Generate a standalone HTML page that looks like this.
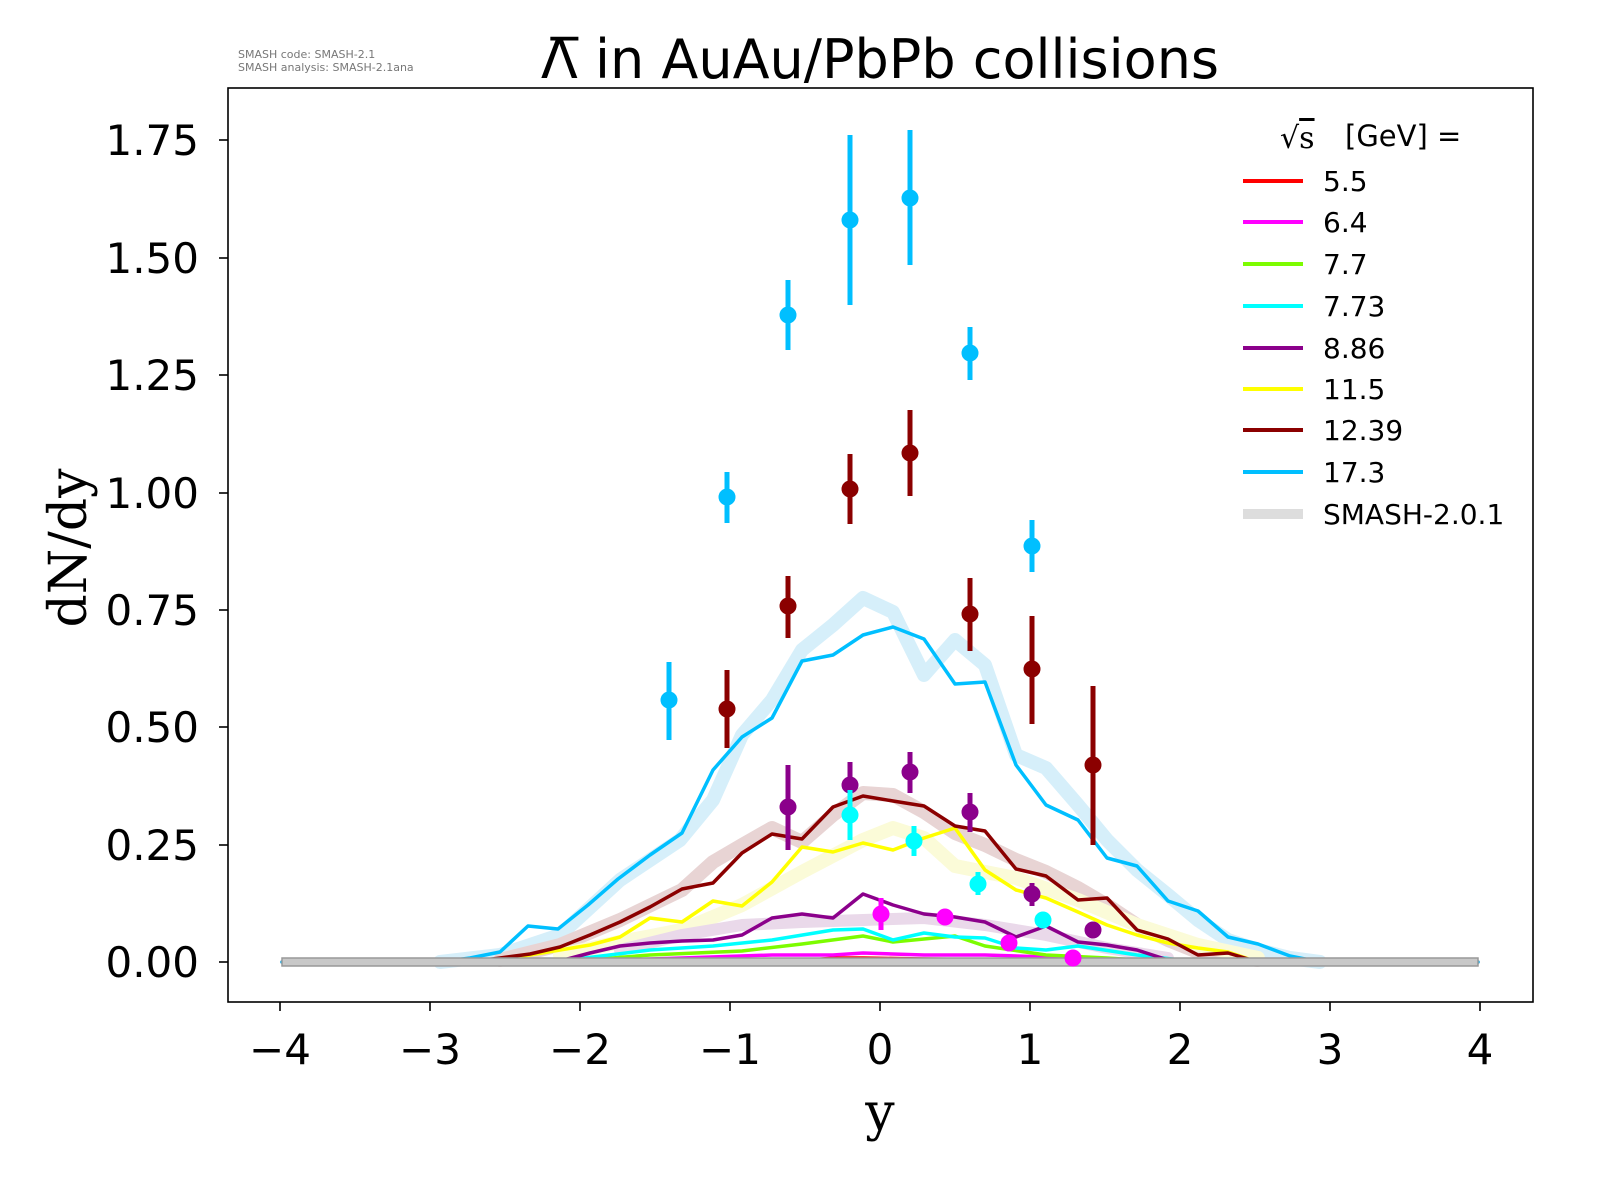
<!DOCTYPE html>
<html><head><meta charset="utf-8"><style>html,body{margin:0;padding:0;background:#fff;}svg{display:block}</style></head>
<body>
<svg width="1600" height="1200" xmlns="http://www.w3.org/2000/svg" font-family="DejaVu Sans, Liberation Sans, sans-serif">
<rect width="1600" height="1200" fill="#fff"/>
<text x="238" y="58" font-size="11" fill="#777">SMASH code:      SMASH-2.1</text>
<text x="238" y="71" font-size="11" fill="#777">SMASH analysis: SMASH-2.1ana</text>
<text x="880" y="78" font-size="54" text-anchor="middle">Λ̅ in AuAu/PbPb collisions</text>

<g fill="none" stroke-linejoin="round" stroke-linecap="round">
<polyline stroke="#d6effa" stroke-width="14" points="440,962 500,955 560,935 620,880 680,840 713,800 742,735 772,700 802,650 833,625 863,598 893,612 924,675 955,640 985,665 1016,755 1046,768 1078,805 1107,840 1137,870 1168,895 1198,920 1228,940 1258,950 1290,958 1320,962"/>
<polyline stroke="#e8d4d4" stroke-width="14" points="500,960 560,945 620,920 682,890 713,862 742,845 772,828 802,842 833,815 863,793 893,795 924,812 955,833 985,845 1016,860 1046,872 1078,888 1107,905 1137,925 1168,940 1198,952 1258,960"/>
<polyline stroke="#fbfbd8" stroke-width="14" points="560,955 620,942 682,930 742,905 802,872 863,840 893,828 924,838 955,866 985,872 1016,878 1078,900 1137,925 1198,945 1258,958"/>
<polyline stroke="#ead9ea" stroke-width="12" points="620,950 682,935 742,925 802,922 863,920 924,918 985,925 1046,935 1107,948 1168,958"/>
<polyline stroke="#ff0000" stroke-width="3.5" points="282,962 682,961 742,959 802,961 833,958 863,958 924,959 1016,960 1078,962 1478,962"/>
<polyline stroke="#ff00ff" stroke-width="3.5" points="560,962 682,958 772,955 833,955 863,953 924,955 985,955 1046,957 1107,960 1168,962"/>
<polyline stroke="#7cfc00" stroke-width="3.5" points="560,962 650,955 742,951 802,944 863,936 893,942 955,936 985,946 1046,955 1107,958 1168,962"/>
<polyline stroke="#00ffff" stroke-width="3.5" points="560,961 650,950 713,946 772,940 833,930 863,929 893,940 924,933 955,937 985,938 1016,948 1046,950 1078,946 1137,955 1198,962"/>
<polyline stroke="#8b008b" stroke-width="3.5" points="560,961 590,953 620,946 650,943 682,941 713,940 742,935 772,918 802,914 833,918 863,894 893,905 924,914 955,917 985,922 1016,937 1046,926 1078,942 1107,945 1137,950 1168,960 1198,962"/>
<polyline stroke="#ffff00" stroke-width="3.5" points="500,960 560,950 590,945 620,937 650,918 682,922 713,901 742,906 772,882 802,847 833,852 863,843 893,850 924,838 955,828 985,870 1016,890 1046,898 1078,912 1107,925 1137,935 1168,943 1198,948 1228,952 1258,962"/>
<polyline stroke="#8b0000" stroke-width="3.5" points="470,962 500,958 530,954 560,947 590,935 620,922 650,907 682,889 713,883 742,853 772,834 802,839 833,807 863,796 893,801 924,806 955,826 985,831 1016,869 1046,876 1078,900 1107,898 1137,930 1168,939 1198,955 1228,953 1258,962 1320,962"/>
<polyline stroke="#00bfff" stroke-width="3.5" points="282,962 440,962 470,958 500,952 528,926 558,929 588,905 618,879 650,855 682,833 713,770 742,737 772,718 802,661 833,655 863,635 893,627 924,639 955,684 985,682 1016,765 1046,805 1078,820 1107,858 1137,866 1168,901 1198,911 1228,937 1258,944 1290,956 1320,962 1478,962"/>
</g>
<rect x="282" y="958" width="1196" height="8" fill="#c8c8c8" stroke="#999" stroke-width="1.5"/>

<g stroke-width="5">
<g stroke="#00bfff" fill="#00bfff">
<line x1="669" y1="662" x2="669" y2="740"/><circle cx="669" cy="700" r="6"/>
<line x1="727" y1="472" x2="727" y2="523"/><circle cx="727" cy="497" r="6"/>
<line x1="788" y1="280" x2="788" y2="350"/><circle cx="788" cy="315" r="6"/>
<line x1="850" y1="135" x2="850" y2="305"/><circle cx="850" cy="220" r="6"/>
<line x1="910" y1="130" x2="910" y2="265"/><circle cx="910" cy="198" r="6"/>
<line x1="970" y1="327" x2="970" y2="380"/><circle cx="970" cy="353" r="6"/>
<line x1="1032" y1="520" x2="1032" y2="572"/><circle cx="1032" cy="546" r="6"/>
</g>
<g stroke="#8b0000" fill="#8b0000">
<line x1="727" y1="670" x2="727" y2="748"/><circle cx="727" cy="709" r="6"/>
<line x1="788" y1="576" x2="788" y2="638"/><circle cx="788" cy="606" r="6"/>
<line x1="850" y1="454" x2="850" y2="524"/><circle cx="850" cy="489" r="6"/>
<line x1="910" y1="410" x2="910" y2="496"/><circle cx="910" cy="453" r="6"/>
<line x1="970" y1="578" x2="970" y2="651"/><circle cx="970" cy="614" r="6"/>
<line x1="1032" y1="616" x2="1032" y2="724"/><circle cx="1032" cy="669" r="6"/>
<line x1="1093" y1="686" x2="1093" y2="845"/><circle cx="1093" cy="765" r="6"/>
</g>
<g stroke="#8b008b" fill="#8b008b">
<line x1="788" y1="765" x2="788" y2="850"/><circle cx="788" cy="807" r="6"/>
<line x1="850" y1="762" x2="850" y2="808"/><circle cx="850" cy="785" r="6"/>
<line x1="910" y1="752" x2="910" y2="793"/><circle cx="910" cy="772" r="6"/>
<line x1="970" y1="793" x2="970" y2="832"/><circle cx="970" cy="812" r="6"/>
<line x1="1032" y1="883" x2="1032" y2="906"/><circle cx="1032" cy="894" r="6"/>
<line x1="1093" y1="923" x2="1093" y2="937"/><circle cx="1093" cy="930" r="6"/>
</g>
<g stroke="#00ffff" fill="#00ffff">
<line x1="850" y1="790" x2="850" y2="840"/><circle cx="850" cy="815" r="6"/>
<line x1="914" y1="826" x2="914" y2="856"/><circle cx="914" cy="841" r="6"/>
<line x1="978" y1="872" x2="978" y2="895"/><circle cx="978" cy="884" r="6"/>
<line x1="1043" y1="913" x2="1043" y2="927"/><circle cx="1043" cy="920" r="6"/>
</g>
<g stroke="#ff00ff" fill="#ff00ff">
<line x1="881" y1="898" x2="881" y2="930"/><circle cx="881" cy="914" r="6"/>
<line x1="945" y1="911" x2="945" y2="923"/><circle cx="945" cy="917" r="6"/>
<circle cx="1009" cy="943" r="6"/>
<circle cx="1073" cy="958" r="6"/>
</g>
</g>

<rect x="228" y="88" width="1305" height="914" fill="none" stroke="#000" stroke-width="1.6"/>
<g stroke="#000" stroke-width="1.6">
<line x1="280" y1="1002" x2="280" y2="1011"/><line x1="430" y1="1002" x2="430" y2="1011"/><line x1="580" y1="1002" x2="580" y2="1011"/><line x1="730" y1="1002" x2="730" y2="1011"/><line x1="880" y1="1002" x2="880" y2="1011"/><line x1="1030" y1="1002" x2="1030" y2="1011"/><line x1="1180" y1="1002" x2="1180" y2="1011"/><line x1="1330" y1="1002" x2="1330" y2="1011"/><line x1="1480" y1="1002" x2="1480" y2="1011"/>
<line x1="219" y1="962" x2="228" y2="962"/><line x1="219" y1="845" x2="228" y2="845"/><line x1="219" y1="727" x2="228" y2="727"/><line x1="219" y1="610" x2="228" y2="610"/><line x1="219" y1="493" x2="228" y2="493"/><line x1="219" y1="375" x2="228" y2="375"/><line x1="219" y1="258" x2="228" y2="258"/><line x1="219" y1="140" x2="228" y2="140"/>
</g>
<g font-size="42" text-anchor="middle">
<text x="280" y="1064">−4</text><text x="430" y="1064">−3</text><text x="580" y="1064">−2</text><text x="730" y="1064">−1</text><text x="880" y="1064">0</text><text x="1030" y="1064">1</text><text x="1180" y="1064">2</text><text x="1330" y="1064">3</text><text x="1480" y="1064">4</text>
</g>
<g font-size="42" text-anchor="end">
<text x="199" y="977">0.00</text><text x="199" y="860">0.25</text><text x="199" y="742">0.50</text><text x="199" y="625">0.75</text><text x="199" y="508">1.00</text><text x="199" y="390">1.25</text><text x="199" y="273">1.50</text><text x="199" y="155">1.75</text>
</g>
<text x="880" y="1130" font-size="52" text-anchor="middle" font-family="DejaVu Serif, Liberation Serif, serif">y</text>
<text transform="translate(86,548) rotate(-90)" font-size="52" text-anchor="middle" font-family="DejaVu Serif, Liberation Serif, serif">dN/dy</text>

<text x="1280" y="148" font-size="30" font-family="DejaVu Serif, serif">√<tspan text-decoration="overline">s</tspan></text>
<text x="1345" y="146" font-size="29">[GeV] =</text>
<g stroke-width="4">
<line x1="1243" y1="181" x2="1303" y2="181" stroke="#ff0000"/>
<line x1="1243" y1="222" x2="1303" y2="222" stroke="#ff00ff"/>
<line x1="1243" y1="264" x2="1303" y2="264" stroke="#7cfc00"/>
<line x1="1243" y1="306" x2="1303" y2="306" stroke="#00ffff"/>
<line x1="1243" y1="348" x2="1303" y2="348" stroke="#8b008b"/>
<line x1="1243" y1="389" x2="1303" y2="389" stroke="#ffff00"/>
<line x1="1243" y1="430" x2="1303" y2="430" stroke="#8b0000"/>
<line x1="1243" y1="472" x2="1303" y2="472" stroke="#00bfff"/>
<line x1="1243" y1="514" x2="1303" y2="514" stroke="#dddddd" stroke-width="10"/>
</g>
<g font-size="28">
<text x="1323" y="191">5.5</text><text x="1323" y="232">6.4</text><text x="1323" y="274">7.7</text><text x="1323" y="316">7.73</text><text x="1323" y="358">8.86</text><text x="1323" y="399">11.5</text><text x="1323" y="440">12.39</text><text x="1323" y="482">17.3</text><text x="1323" y="524">SMASH-2.0.1</text>
</g>
</svg>
</body></html>
